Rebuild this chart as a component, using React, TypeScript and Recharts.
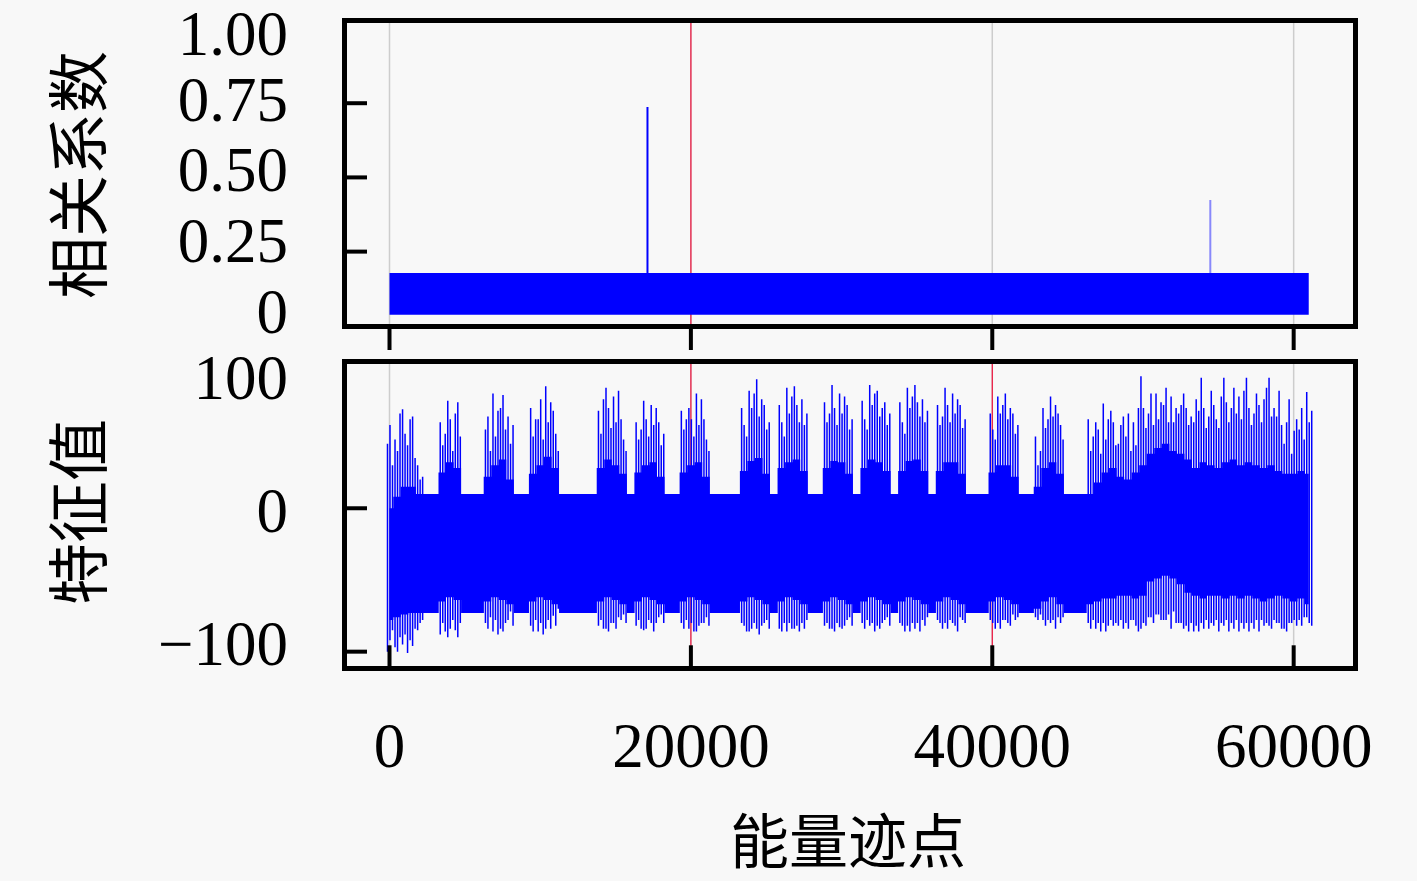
import React from "react";
import { Area, Bar, CartesianGrid, Cell, ComposedChart, ReferenceLine, XAxis, YAxis } from "recharts";

const BLUE = "#0000ff";
const RED = "#f0103c";
const GRID = "#cdcdcd";
const BG = "#f8f8f8";
const SERIF = '"Liberation Serif", "Times New Roman", serif';
const CJK = '"Noto Sans CJK SC", "Noto Sans CJK JP", sans-serif';

// axes
const xTicks = [0, 20000, 40000, 60000];
const corrTicks = [0, 0.25, 0.5, 0.75, 1];
const featTicks = [-100, 0, 100];
const markers = { corr: [20000], feat: [20000, 40000] };

// top panel: correlation band + two spikes
const corrX = [0, 10000, 17150, 20000, 30000, 40000, 50000, 54500, 61000];
const corrHi = [0.178, 0.178, 0.178, 0.178, 0.178, 0.178, 0.178, 0.178, 0.178];
const corrLo = [0.037, 0.037, 0.037, 0.037, 0.037, 0.037, 0.037, 0.037, 0.037];
const corrSpike = [null, null, 0.737, null, null, null, null, 0.424, null];

// bottom panel: one bin per 500 trace points (0 .. 61000)
const featStep = 500;
const featCoreHi = [
  0, 8, 15, 15, 10, 10, 10, 25, 32, 28,
  10, 10, 10, 22, 30, 34, 20, 10, 10, 24,
  30, 36, 28, 10, 10, 10, 10, 10, 28, 34,
  30, 24, 10, 25, 30, 32, 22, 10, 10, 25,
  30, 32, 22, 10, 10, 10, 10, 26, 33, 35,
  24, 10, 28, 32, 34, 26, 10, 10, 28, 33,
  32, 24, 10, 28, 34, 32, 26, 10, 26, 33,
  34, 26, 10, 26, 32, 32, 24, 10, 10, 10,
  25, 30, 30, 22, 10, 10, 15, 28, 32, 24,
  10, 10, 10, 10, 18, 25, 28, 22, 20, 25,
  30, 38, 42, 45, 40, 38, 34, 28, 32, 30,
  28, 32, 34, 30, 32, 30, 28, 30, 26, 24,
  24, 26, 24,
];
const featCoreLo = [
  -78, -76, -74, -73, -73, -73, -73, -65, -62, -64,
  -73, -73, -73, -65, -62, -64, -67, -73, -73, -65,
  -62, -64, -67, -73, -73, -73, -73, -73, -65, -62,
  -64, -67, -73, -65, -62, -64, -67, -73, -73, -65,
  -62, -64, -67, -73, -73, -73, -73, -65, -62, -64,
  -67, -73, -65, -62, -64, -67, -73, -73, -65, -62,
  -64, -67, -73, -65, -62, -64, -67, -73, -65, -62,
  -64, -67, -73, -65, -62, -64, -67, -73, -73, -73,
  -65, -62, -64, -67, -73, -73, -70, -65, -62, -67,
  -73, -73, -73, -67, -65, -63, -63, -61, -61, -63,
  -61, -51, -49, -47, -49, -53, -59, -61, -63, -61,
  -61, -63, -61, -63, -61, -63, -65, -63, -61, -63,
  -65, -63, -67,
];
// three spike combs per bin: tallest, second, third
const featPeakHi = [
  45, 48, 69, 62, 30, 10, 10, 60, 75, 66,
  10, 10, 10, 55, 80, 70, 64, 10, 10, 70,
  62, 85, 68, 10, 10, 10, 10, 10, 68, 84,
  78, 62, 10, 60, 75, 72, 60, 10, 10, 68,
  70, 80, 62, 10, 10, 10, 10, 70, 82, 90,
  72, 10, 72, 84, 85, 76, 10, 10, 74, 86,
  80, 72, 10, 75, 86, 82, 74, 10, 74, 84,
  86, 76, 10, 72, 84, 80, 72, 10, 10, 10,
  66, 78, 80, 66, 10, 10, 50, 70, 78, 66,
  10, 10, 10, 62, 60, 73, 68, 45, 50, 60,
  92, 66, 80, 72, 78, 66, 70, 60, 91, 64,
  62, 91, 70, 78, 91, 66, 60, 91, 64, 45,
  38, 55, 81,
];
const featPeakLo = [
  -100, -97, -95, -92, -85, -73, -73, -88, -90, -85,
  -73, -73, -73, -80, -86, -84, -78, -73, -73, -82,
  -86, -84, -75, -73, -73, -73, -73, -73, -82, -84,
  -80, -78, -73, -82, -85, -80, -76, -73, -73, -80,
  -84, -86, -80, -73, -73, -73, -73, -80, -86, -84,
  -80, -73, -84, -86, -84, -80, -73, -73, -82, -84,
  -83, -78, -73, -80, -82, -82, -78, -73, -80, -82,
  -84, -78, -73, -78, -80, -80, -76, -73, -73, -73,
  -78, -80, -78, -74, -73, -73, -76, -78, -80, -76,
  -73, -73, -73, -80, -84, -80, -78, -82, -80, -78,
  -84, -76, -74, -78, -84, -80, -82, -86, -80, -84,
  -78, -82, -80, -86, -80, -84, -78, -82, -80, -84,
  -80, -78, -76,
];
const featMidHi = [
  58, 40, 52, 64, 20, 10, 10, 44, 62, 74,
  10, 10, 10, 64, 50, 79, 45, 10, 10, 50,
  76, 60, 52, 10, 10, 10, 10, 10, 52, 70,
  60, 48, 10, 48, 62, 58, 44, 10, 10, 55,
  62, 58, 48, 10, 10, 10, 10, 58, 70, 64,
  55, 10, 60, 66, 72, 58, 10, 10, 60, 70,
  66, 55, 10, 62, 72, 64, 58, 10, 60, 70,
  74, 60, 10, 58, 72, 66, 56, 10, 10, 10,
  55, 66, 62, 52, 10, 10, 30, 56, 64, 58,
  10, 10, 10, 40, 55, 48, 60, 58, 66, 44,
  70, 80, 62, 84, 60, 72, 58, 76, 70, 82,
  56, 74, 84, 62, 70, 80, 76, 64, 82, 60,
  54, 70, 60,
];
const featMidLo = [
  -92, -100, -88, -96, -80, -73, -73, -80, -84, -90,
  -73, -73, -73, -84, -78, -86, -72, -73, -73, -86,
  -80, -78, -82, -73, -73, -73, -73, -73, -78, -86,
  -84, -74, -73, -78, -84, -86, -74, -73, -73, -84,
  -80, -82, -76, -73, -73, -73, -73, -82, -84, -88,
  -78, -73, -86, -80, -82, -84, -73, -73, -80, -86,
  -84, -76, -73, -84, -80, -84, -76, -73, -82, -86,
  -80, -82, -73, -80, -84, -82, -78, -73, -73, -73,
  -80, -84, -80, -78, -73, -73, -78, -82, -78, -80,
  -73, -73, -73, -84, -80, -86, -82, -78, -84, -82,
  -80, -76, -74, -78, -72, -80, -86, -82, -84, -80,
  -86, -78, -84, -80, -86, -78, -82, -84, -80, -86,
  -78, -82, -80,
];
const featLowHi = [
  30, 66, 44, 35, 22, 10, 10, 52, 40, 50,
  10, 10, 10, 40, 68, 55, 58, 10, 10, 62,
  48, 74, 40, 10, 10, 10, 10, 10, 76, 56,
  82, 40, 10, 55, 50, 70, 52, 10, 10, 62,
  50, 76, 40, 10, 10, 10, 10, 50, 80, 76,
  60, 10, 50, 78, 60, 66, 10, 10, 66, 58,
  78, 62, 10, 55, 80, 70, 66, 10, 52, 78,
  64, 68, 10, 64, 60, 76, 62, 10, 10, 10,
  48, 72, 70, 58, 10, 10, 40, 62, 72, 48,
  10, 10, 10, 50, 38, 62, 44, 64, 40, 70,
  56, 58, 74, 60, 70, 80, 64, 68, 56, 72,
  78, 60, 66, 82, 58, 72, 84, 70, 58, 76,
  62, 48, 68,
];
const featLowLo = [
  -85, -90, -101, -84, -78, -73, -73, -86, -78, -80,
  -73, -73, -73, -76, -88, -80, -82, -73, -73, -78,
  -88, -84, -70, -73, -73, -73, -73, -73, -84, -80,
  -76, -80, -73, -84, -78, -80, -80, -73, -73, -78,
  -86, -80, -82, -73, -73, -73, -73, -86, -80, -82,
  -84, -73, -80, -84, -86, -78, -73, -73, -84, -80,
  -82, -82, -73, -78, -86, -80, -82, -73, -86, -80,
  -86, -76, -73, -84, -78, -86, -80, -73, -73, -73,
  -84, -78, -82, -76, -73, -73, -74, -78, -84, -76,
  -73, -73, -73, -78, -86, -82, -80, -84, -78, -86,
  -82, -80, -78, -74, -80, -84, -80, -86, -78, -82,
  -80, -86, -78, -84, -80, -86, -80, -78, -84, -80,
  -82, -76, -82,
];

const corrRows = corrX.map((x, i) => ({
  x,
  band: [corrLo[i], corrHi[i]],
  spike: corrSpike[i] == null ? null : [corrHi[i], corrSpike[i]],
}));

const featRows = featCoreHi.map((hi, i) => ({
  x: i * featStep,
  core: [featCoreLo[i], hi],
  peakA: [featPeakLo[i], featPeakHi[i]],
  peakB: [featMidLo[i], featMidHi[i]],
  peakC: [featLowLo[i], featLowHi[i]],
}));

// layout (page pixels)
const W = 1417;
const PLOT_L = 344;
const PLOT_R = 1355;
const TOP_T = 20.7;
const TOP_B = 327;
const TOP_H = 360;
const BOT_OFF = 330;
const BOT_H = 881 - BOT_OFF;
const BOT_T = 361.7 - BOT_OFF;
const BOT_B = 668.3 - BOT_OFF;
const X_DOMAIN: [number, number] = [-3020, 64070];

const fmtCorr = (v: number) => (v === 0 ? "0" : v.toFixed(2));
const fmtFeat = (v: number) => (v < 0 ? "\u2212" + Math.abs(v) : String(v));

const labelStyle = { fontFamily: SERIF, fontSize: 63, fill: "#000" };

function CorrTick(props: any) {
  const { y, payload } = props;
  const v = payload.value;
  const ly = Math.max(34, 29 + (y - 29) * 0.953);
  return (
    <g>
      {v > 0 && v < 1 ? <line x1={PLOT_L} x2={PLOT_L + 23} y1={y} y2={y} stroke="#000" strokeWidth={4} /> : null}
      <text x={288} y={ly} textAnchor="end" dominantBaseline="central" {...labelStyle}>{fmtCorr(v)}</text>
    </g>
  );
}

function FeatTick(props: any) {
  const { y, payload } = props;
  const v = payload.value;
  const zero = 508.3 - BOT_OFF;
  const ly = 511 - BOT_OFF + (y - zero) * 0.928;
  return (
    <g>
      {v < 100 ? <line x1={PLOT_L} x2={PLOT_L + 23} y1={y} y2={y} stroke="#000" strokeWidth={4} /> : null}
      <text x={288} y={ly} textAnchor="end" dominantBaseline="central" {...labelStyle}>{fmtFeat(v)}</text>
    </g>
  );
}

function TopXTick(props: any) {
  const { x } = props;
  return <line x1={x} x2={x} y1={TOP_B} y2={TOP_B + 23} stroke="#000" strokeWidth={4} />;
}

function BottomXTick(props: any) {
  const { x, payload } = props;
  return (
    <g>
      <line x1={x} x2={x} y1={BOT_B} y2={BOT_B - 23} stroke="#000" strokeWidth={4} />
      <text x={x} y={BOT_B + 77.7} textAnchor="middle" dominantBaseline="central" {...labelStyle}>{payload.value}</text>
    </g>
  );
}

function Frame({ top, bottom }: { top: number; bottom: number }) {
  return (
    <div
      style={{
        position: "absolute",
        left: PLOT_L - 2.5,
        top: top - 2.5,
        width: PLOT_R - PLOT_L + 5,
        height: bottom - top + 5,
        border: "5px solid #000",
        boxSizing: "border-box",
        pointerEvents: "none",
      }}
    />
  );
}

function Title({ text, cx, cy, size, rotate }: { text: string; cx: number; cy: number; size: number; rotate?: boolean }) {
  return (
    <div
      style={{
        position: "absolute",
        left: cx - 180,
        top: cy - 34,
        width: 360,
        height: 68,
        lineHeight: "68px",
        textAlign: "center",
        fontFamily: CJK,
        fontSize: size,
        color: "#000",
        transform: rotate ? "rotate(-90deg)" : undefined,
        whiteSpace: "nowrap",
      }}
    >
      {text}
    </div>
  );
}

export default function App() {
  return (
    <div style={{ position: "absolute", left: 0, top: 0, width: W, height: 881, background: BG, overflow: "hidden" }}>
      <div style={{ position: "absolute", left: 0, top: 0 }}>
        <ComposedChart width={W} height={TOP_H} data={corrRows} margin={{ top: TOP_T, right: W - PLOT_R, bottom: 0, left: 0 }}>
          <CartesianGrid horizontal={false} stroke={GRID} strokeWidth={1.5} />
          {markers.corr.map((m) => (
            <ReferenceLine key={m} x={m} stroke={RED} strokeWidth={1.2} zIndex={50} />
          ))}
          <XAxis
            type="number"
            dataKey="x"
            domain={X_DOMAIN}
            allowDataOverflow
            ticks={xTicks}
            interval={0}
            height={TOP_H - TOP_B}
            tickSize={0}
            tickMargin={0}
            axisLine={false}
            tickLine={false}
            tick={(p: any) => <TopXTick {...p} />}
          />
          <YAxis
            type="number"
            domain={[-0.004, 1.028]}
            allowDataOverflow
            ticks={corrTicks}
            interval={0}
            width={PLOT_L}
            tickSize={0}
            tickMargin={0}
            axisLine={false}
            tickLine={false}
            tick={(p: any) => <CorrTick {...p} />}
          />
          <Area dataKey="band" type="linear" stroke="none" fill={BLUE} fillOpacity={1} dot={false} activeDot={false} isAnimationActive={false} />
          <Bar dataKey="spike" barSize={2} fill={BLUE} isAnimationActive={false}>
            {corrRows.map((r, i) => (
              <Cell key={r.x} fill={BLUE} fillOpacity={i === 7 ? 0.45 : 1} />
            ))}
          </Bar>
        </ComposedChart>
      </div>

      <div style={{ position: "absolute", left: 0, top: BOT_OFF }}>
        <ComposedChart width={W} height={BOT_H} data={featRows} barGap={1} margin={{ top: BOT_T, right: W - PLOT_R, bottom: 0, left: 0 }}>
          <CartesianGrid horizontal={false} stroke={GRID} strokeWidth={1.5} />
          {markers.feat.map((m) => (
            <ReferenceLine key={m} x={m} stroke={RED} strokeWidth={1.2} zIndex={50} />
          ))}
          <XAxis
            type="number"
            dataKey="x"
            domain={X_DOMAIN}
            allowDataOverflow
            ticks={xTicks}
            interval={0}
            height={BOT_H - BOT_B}
            tickSize={0}
            tickMargin={0}
            axisLine={false}
            tickLine={false}
            tick={(p: any) => <BottomXTick {...p} />}
          />
          <YAxis
            type="number"
            domain={[-111.6, 102.2]}
            allowDataOverflow
            ticks={featTicks}
            interval={0}
            width={PLOT_L}
            tickSize={0}
            tickMargin={0}
            axisLine={false}
            tickLine={false}
            tick={(p: any) => <FeatTick {...p} />}
          />
          <Area dataKey="core" type="step" stroke="none" fill={BLUE} fillOpacity={1} dot={false} activeDot={false} isAnimationActive={false} />
          <Bar dataKey="peakA" barSize={1.5} fill={BLUE} isAnimationActive={false} />
          <Bar dataKey="peakB" barSize={1.5} fill={BLUE} isAnimationActive={false} />
          <Bar dataKey="peakC" barSize={1.5} fill={BLUE} isAnimationActive={false} />
        </ComposedChart>
      </div>

      <Frame top={TOP_T} bottom={TOP_B} />
      <Frame top={BOT_T + BOT_OFF} bottom={BOT_B + BOT_OFF} />

      <Title text="相关系数" cx={75} cy={175} size={62} rotate />
      <Title text="特征值" cx={75} cy={512} size={62} rotate />
      <Title text="能量迹点" cx={848} cy={838} size={59} />
    </div>
  );
}
